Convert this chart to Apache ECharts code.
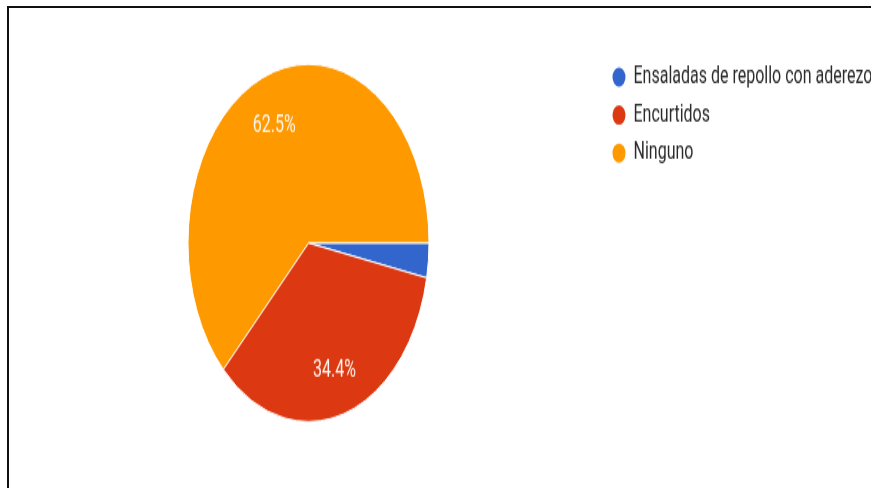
<!DOCTYPE html>
<html>
<head>
<meta charset="utf-8">
<script src="https://cdn.jsdelivr.net/npm/echarts@6/dist/echarts.min.js"></script>
<style>
  html, body { margin: 0; padding: 0; background: #fff; width: 871px; height: 488px; overflow: hidden; }
  #chart { position: absolute; left: 0; top: 0; width: 871px; height: 329px; transform: scaleY(1.4833); transform-origin: 0 0; }
  #frame { position: absolute; left: 7px; top: 6px; right: -5px; bottom: -5px; border-top: 2px solid #111; border-left: 2px solid #111; pointer-events: none; }
</style>
</head>
<body>
<div id="chart"></div>
<div id="frame"></div>
<script>
const categories = ['Ensaladas de repollo con aderezo', 'Encurtidos', 'Ninguno'];
const values = [1, 11, 20];
const colors = ['#3366cc', '#dc3912', '#ff9900'];
const showLabel = [false, true, true];

const chart = echarts.init(document.getElementById('chart'), null, { renderer: 'canvas' });

const labelNudge = [[0, 0], [0, 0], [0, 4.5]];
const pieData = categories.map((name, i) => ({ name, value: values[i], itemStyle: { color: colors[i] } }));
const labelData = categories.map((name, i) => ({
  name, value: values[i],
  label: { show: showLabel[i], offset: labelNudge[i] }
}));

chart.setOption({
  animation: false,
  color: colors,
  legend: {
    orient: 'vertical',
    left: 605.5,
    top: 38,
    icon: 'circle',
    itemWidth: 19,
    itemHeight: 15,
    itemGap: 7.6,
    data: categories,
    textStyle: { fontFamily: 'Roboto', fontSize: 16, color: '#2a2a2a', lineHeight: 18 }
  },
  series: [
    {
      type: 'pie',
      center: [308.5, 163.8],
      radius: [0, 120.5],
      startAngle: 0,
      clockwise: true,
      silent: true,
      label: { show: false },
      labelLine: { show: false },
      itemStyle: { borderColor: '#fff', borderWidth: 1 },
      data: pieData
    },
    {
      type: 'pie',
      center: [308.5, 163.8],
      radius: [53, 120.5],
      startAngle: 0,
      clockwise: true,
      silent: true,
      itemStyle: { color: 'rgba(0,0,0,0)', borderWidth: 0 },
      label: {
        position: 'inside',
        formatter: (p) => p.percent.toFixed(1) + '%',
        fontFamily: 'Roboto',
        fontSize: 16,
        color: '#fbf6ee'
      },
      labelLine: { show: false },
      data: labelData
    }
  ]
});
</script>
</body>
</html>
